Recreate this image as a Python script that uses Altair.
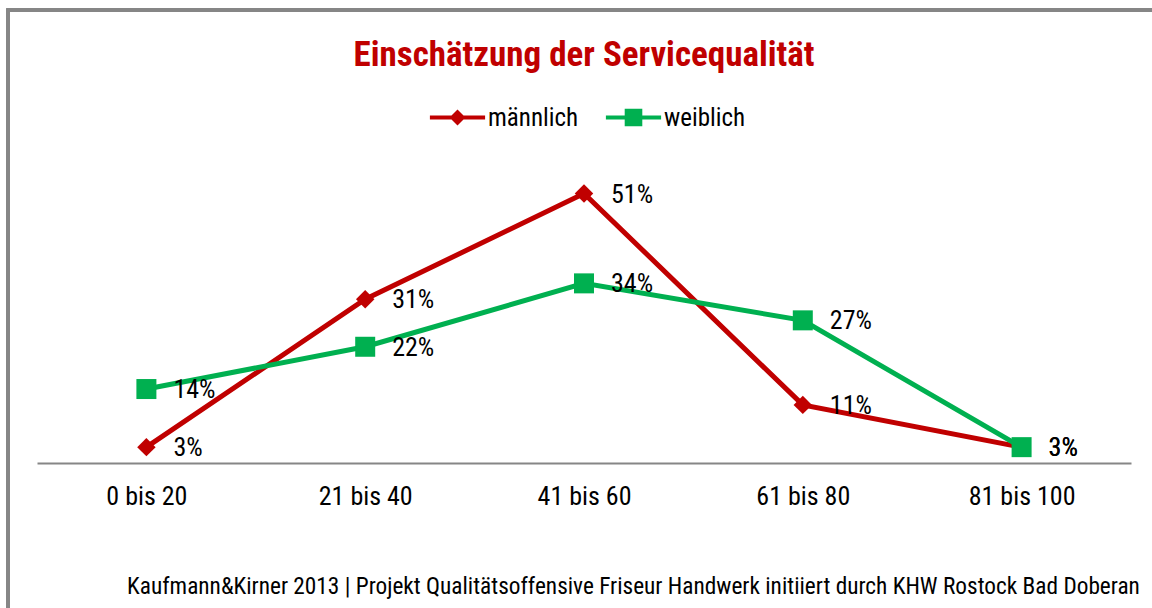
import altair as alt
import pandas as pd

categories = ["0 bis 20", "21 bis 40", "41 bis 60", "61 bis 80", "81 bis 100"]
maennlich = [3, 31, 51, 11, 3]
weiblich = [14, 22, 34, 27, 3]
series_names = ["männlich", "weiblich"]
series_colors = ["#C00000", "#00B050"]

title_text = "Einschätzung der Servicequalität"
footer_text = "Kaufmann&Kirner 2013 | Projekt Qualitätsoffensive  Friseur Handwerk initiiert durch KHW Rostock Bad Doberan"

rows = []
for i, c in enumerate(categories):
    rows.append({"Kategorie": c, "Geschlecht": "männlich", "Wert": maennlich[i], "order": i})
    rows.append({"Kategorie": c, "Geschlecht": "weiblich", "Wert": weiblich[i], "order": i})
df = pd.DataFrame(rows)
df["Label"] = df["Wert"].astype(str) + "%"

FONT = "Roboto Condensed, Liberation Sans Narrow, DejaVu Sans Condensed, sans-serif"

red_path = ("M-3.45,-0.25 L3.45,-0.25 L3.45,0.25 L-3.45,0.25 Z "
            "M0,-1 L1,0 L0,1 L-1,0 Z")
green_path = ("M-3.45,-0.25 L3.45,-0.25 L3.45,0.25 L-3.45,0.25 Z "
              "M-1.1,-1.1 L1.1,-1.1 L1.1,1.1 L-1.1,1.1 Z")

color_scale = alt.Scale(domain=series_names, range=series_colors)

x_enc = alt.X(
    "Kategorie:N",
    sort=categories,
    scale=alt.Scale(type="point", padding=0.5),
    axis=alt.Axis(
        title=footer_text,
        titleFont=FONT,
        titleFontSize=23.3,
        titleFontWeight="normal",
        titleColor="#000000",
        titleX=596,
        titleY=130,
        titleBaseline="alphabetic",
        titleAlign="center",
        labelFont=FONT,
        labelFontSize=26,
        labelColor="#000000",
        labelPadding=20,
        labelAngle=0,
        ticks=False,
        domainColor="#868686",
        domainWidth=2,
        grid=False,
    ),
)
y_enc = alt.Y("Wert:Q", scale=alt.Scale(domain=[0, 60]), axis=None)

base = alt.Chart(df)

lines = base.mark_line(strokeWidth=5).encode(
    x=x_enc,
    y=y_enc,
    color=alt.Color("Geschlecht:N", scale=color_scale, legend=None),
    detail="Geschlecht:N",
    order="order:Q",
)

points = base.mark_point(filled=True, opacity=1).encode(
    x=x_enc,
    y=y_enc,
    color=alt.Color("Geschlecht:N", scale=color_scale, legend=None),
    shape=alt.Shape("Geschlecht:N", scale=alt.Scale(domain=series_names, range=["diamond", "square"]), legend=None),
    size=alt.Size("Geschlecht:N", scale=alt.Scale(domain=series_names, range=[340, 400]), legend=None),
)

labels = base.mark_text(
    align="left", baseline="middle", dx=27, dy=1,
    font=FONT, fontSize=26, color="#000000"
).encode(
    x=x_enc,
    y=y_enc,
    text="Label:N",
)


def legend_layer(name, path, color, lx):
    leg = alt.Legend(
        title=None,
        orient="none",
        direction="horizontal",
        legendX=lx,
        legendY=-41,
        labelFont=FONT,
        labelFontSize=25,
        labelColor="#000000",
        labelOffset=18,
        symbolSize=256,
        symbolStrokeWidth=0,
        symbolFillColor=color,
        symbolOpacity=1,
    )
    return alt.Chart(df).transform_filter("false").mark_point(filled=True, color=color, opacity=1).encode(
        shape=alt.Shape("Geschlecht:N", scale=alt.Scale(domain=[name], range=[path]), legend=leg),
    )


leg_m = legend_layer(series_names[0], red_path, series_colors[0], 408)
leg_w = legend_layer(series_names[1], green_path, series_colors[1], 584)

title_layer = alt.Chart(pd.DataFrame({"t": [title_text]})).mark_text(
    align="center", baseline="alphabetic", font=FONT, fontSize=35,
    fontWeight="bold", color="#C00000"
).encode(text="t:N", x=alt.value(547), y=alt.value(-80))

frame_left = alt.Chart(df).mark_rule(color="#868686", strokeWidth=3).encode(
    x=alt.value(-29), y=alt.value(-136), y2=alt.value(480)
)
frame_top = alt.Chart(df).mark_rule(color="#868686", strokeWidth=3).encode(
    x=alt.value(-30.5), x2=alt.value(1120), y=alt.value(-136)
)

chart = alt.layer(frame_left, frame_top, lines, points, labels, leg_m, leg_w, title_layer).resolve_scale(
    shape="independent"
).resolve_legend(shape="independent").properties(
    width=1094,
    height=317,
    autosize=alt.AutoSizeParams(type="none"),
    padding={"left": 37, "top": 146, "right": 21, "bottom": 145},
    background="#FFFFFF",
).configure_view(stroke=None)

chart.save("out.html", embed_options={"renderer": "svg", "actions": False})
